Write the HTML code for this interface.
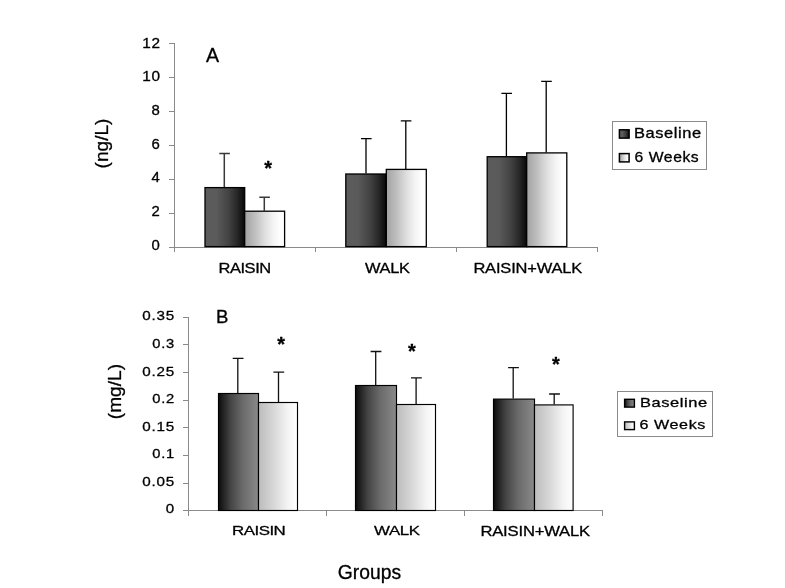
<!DOCTYPE html>
<html lang="en"><head><meta charset="utf-8"><title>Figure: Baseline vs 6 Weeks by group</title>
<style>
html,body{margin:0;padding:0;background:#fff;}
body{width:785px;height:588px;overflow:hidden;}
svg{display:block;will-change:transform;font-family:'Liberation Sans', Arial, Helvetica, sans-serif;fill:#000;}
text{stroke:#000;stroke-width:.3px;stroke-linejoin:round;}
</style></head><body>
<svg width="785" height="588" viewBox="0 0 785 588">
<defs>
<linearGradient id="dA" x1="0" x2="1" y1="0" y2="0"><stop offset="0" stop-color="#5c5c5c"/><stop offset=".3" stop-color="#5a5a5a"/><stop offset=".6" stop-color="#424242"/><stop offset=".82" stop-color="#262626"/><stop offset="1" stop-color="#080808"/></linearGradient>
<linearGradient id="lA" x1="0" x2="1" y1="0" y2="0"><stop offset="0" stop-color="#a2a2a2"/><stop offset=".25" stop-color="#bebebe"/><stop offset=".5" stop-color="#dedede"/><stop offset=".72" stop-color="#f4f4f4"/><stop offset=".9" stop-color="#ffffff"/><stop offset="1" stop-color="#ffffff"/></linearGradient>
<linearGradient id="dB" x1="0" x2="1" y1="0" y2="0"><stop offset="0" stop-color="#0c0c0c"/><stop offset=".3" stop-color="#444444"/><stop offset=".6" stop-color="#6a6a6a"/><stop offset="1" stop-color="#8a8a8a"/></linearGradient>
<linearGradient id="lB" x1="0" x2="1" y1="0" y2="0"><stop offset="0" stop-color="#bcbcbc"/><stop offset=".4" stop-color="#d8d8d8"/><stop offset=".75" stop-color="#f4f4f4"/><stop offset="1" stop-color="#ffffff"/></linearGradient>
</defs>
<rect width="785" height="588" fill="#fff"/>

<g stroke="#8a8a8a" stroke-width="1" fill="none" shape-rendering="crispEdges">
<path d="M174.5 43.5V252"/>
<path d="M169 247.5H597.5"/>
<path d="M169 43.5H174.5"/>
<path d="M169 77.5H174.5"/>
<path d="M169 111.5H174.5"/>
<path d="M169 145.5H174.5"/>
<path d="M169 179.5H174.5"/>
<path d="M169 213.5H174.5"/>
<path d="M315.5 247.5V252"/>
<path d="M456.5 247.5V252"/>
<path d="M597.5 247.5V252"/>
</g>
<text x="160.70" y="47.70" font-size="14" text-anchor="end" textLength="18.40" lengthAdjust="spacingAndGlyphs" letter-spacing=".6">12</text>
<text x="160.70" y="80.90" font-size="14" text-anchor="end" textLength="18.40" lengthAdjust="spacingAndGlyphs" letter-spacing=".6">10</text>
<text x="159.90" y="114.90" font-size="14" text-anchor="end" textLength="8.30" lengthAdjust="spacingAndGlyphs">8</text>
<text x="159.90" y="148.80" font-size="14" text-anchor="end" textLength="8.30" lengthAdjust="spacingAndGlyphs">6</text>
<text x="159.90" y="182.00" font-size="14" text-anchor="end" textLength="8.30" lengthAdjust="spacingAndGlyphs">4</text>
<text x="159.90" y="216.40" font-size="14" text-anchor="end" textLength="8.30" lengthAdjust="spacingAndGlyphs">2</text>
<text x="159.90" y="250.40" font-size="14" text-anchor="end" textLength="8.30" lengthAdjust="spacingAndGlyphs">0</text>
<rect x="205.00" y="187.60" width="39.70" height="59.00" fill="url(#dA)" stroke="#000" stroke-width="1.3"/>
<rect x="244.70" y="211.20" width="39.90" height="35.40" fill="url(#lA)" stroke="#000" stroke-width="1.3"/>
<rect x="345.80" y="174.00" width="40.50" height="72.60" fill="url(#dA)" stroke="#000" stroke-width="1.3"/>
<rect x="386.30" y="169.40" width="40.00" height="77.20" fill="url(#lA)" stroke="#000" stroke-width="1.3"/>
<rect x="487.20" y="156.70" width="39.50" height="89.90" fill="url(#dA)" stroke="#000" stroke-width="1.3"/>
<rect x="526.70" y="152.90" width="40.10" height="93.70" fill="url(#lA)" stroke="#000" stroke-width="1.3"/>
<path d="M224.30 187.00V153.50M219.30 153.50H229.90" stroke="#3a3a3a" stroke-width="1.5" fill="none"/>
<path d="M264.30 211.00V197.20M259.30 197.20H269.90" stroke="#3a3a3a" stroke-width="1.5" fill="none"/>
<path d="M366.00 173.50V138.60M361.00 138.60H371.60" stroke="#000" stroke-width="1.3" fill="none"/>
<path d="M405.80 169.00V120.80M400.80 120.80H411.40" stroke="#000" stroke-width="1.3" fill="none"/>
<path d="M506.40 156.00V93.40M501.40 93.40H512.00" stroke="#000" stroke-width="1.3" fill="none"/>
<path d="M546.20 152.50V81.30M541.20 81.30H551.80" stroke="#000" stroke-width="1.3" fill="none"/>
<text x="218.50" y="272.70" font-size="14.5" textLength="52.20" lengthAdjust="spacingAndGlyphs" letter-spacing="-.4" stroke="none">RAISIN</text>
<text x="365.00" y="272.70" font-size="14.5" textLength="44.60" lengthAdjust="spacingAndGlyphs" letter-spacing="-.3" stroke="none">WALK</text>
<text x="473.40" y="273.10" font-size="14.6" textLength="108.80" lengthAdjust="spacingAndGlyphs" letter-spacing="-.15" stroke="none">RAISIN+WALK</text>
<text x="205.90" y="61.70" font-size="19.6">A</text>
<text x="268.05" y="175.05" font-size="20" text-anchor="middle" font-weight="bold" stroke="none">*</text>
<text x="0.00" y="0.00" font-size="19.1" text-anchor="middle" transform="translate(107.5 143.5) rotate(-90)">(ng/L)</text>
<rect x="612.5" y="121.5" width="94" height="48" fill="#fff" stroke="#8a8a8a" stroke-width="1" shape-rendering="crispEdges"/>
<rect x="619.40" y="129.80" width="9.70" height="8.30" fill="url(#dA)" stroke="#000" stroke-width="1.5"/>
<rect x="619.40" y="153.60" width="9.70" height="8.30" fill="url(#lA)" stroke="#000" stroke-width="1.5"/>
<text x="634.00" y="138.00" font-size="14.2" textLength="67.80" lengthAdjust="spacingAndGlyphs" letter-spacing=".5" stroke-width=".15">Baseline</text>
<text x="634.60" y="161.80" font-size="14.2" textLength="64.60" lengthAdjust="spacingAndGlyphs" letter-spacing=".5" stroke-width=".15">6 Weeks</text>
<g stroke="#8a8a8a" stroke-width="1" fill="none" shape-rendering="crispEdges">
<path d="M188.5 317.5V515.5"/>
<path d="M183 510.5H602.5"/>
<path d="M183 317.5H188.5"/>
<path d="M183 344.5H188.5"/>
<path d="M183 372.5H188.5"/>
<path d="M183 400.5H188.5"/>
<path d="M183 427.5H188.5"/>
<path d="M183 455.5H188.5"/>
<path d="M183 483.5H188.5"/>
<path d="M326.5 510.5V515.5"/>
<path d="M464.5 510.5V515.5"/>
<path d="M602.5 510.5V515.5"/>
</g>
<text x="175.00" y="320.40" font-size="13.2" text-anchor="end" textLength="32.80" lengthAdjust="spacingAndGlyphs" letter-spacing=".7">0.35</text>
<text x="175.00" y="347.95" font-size="13.2" text-anchor="end" textLength="22.80" lengthAdjust="spacingAndGlyphs" letter-spacing=".7">0.3</text>
<text x="175.00" y="375.50" font-size="13.2" text-anchor="end" textLength="32.80" lengthAdjust="spacingAndGlyphs" letter-spacing=".7">0.25</text>
<text x="175.00" y="403.05" font-size="13.2" text-anchor="end" textLength="22.80" lengthAdjust="spacingAndGlyphs" letter-spacing=".7">0.2</text>
<text x="175.00" y="430.60" font-size="13.2" text-anchor="end" textLength="32.80" lengthAdjust="spacingAndGlyphs" letter-spacing=".7">0.15</text>
<text x="175.00" y="458.15" font-size="13.2" text-anchor="end" textLength="22.80" lengthAdjust="spacingAndGlyphs" letter-spacing=".7">0.1</text>
<text x="175.00" y="485.70" font-size="13.2" text-anchor="end" textLength="32.80" lengthAdjust="spacingAndGlyphs" letter-spacing=".7">0.05</text>
<text x="174.10" y="513.25" font-size="13.2" text-anchor="end" textLength="8.40" lengthAdjust="spacingAndGlyphs">0</text>
<rect x="218.50" y="393.50" width="40.00" height="117.00" fill="url(#dB)" stroke="#000" stroke-width="1.15"/>
<rect x="258.50" y="402.50" width="39.00" height="108.00" fill="url(#lB)" stroke="#000" stroke-width="1.15"/>
<rect x="355.50" y="385.50" width="41.00" height="125.00" fill="url(#dB)" stroke="#000" stroke-width="1.15"/>
<rect x="396.50" y="404.50" width="39.00" height="106.00" fill="url(#lB)" stroke="#000" stroke-width="1.15"/>
<rect x="493.50" y="399.10" width="41.00" height="111.40" fill="url(#dB)" stroke="#000" stroke-width="1.15"/>
<rect x="534.50" y="404.90" width="38.60" height="105.60" fill="url(#lB)" stroke="#000" stroke-width="1.15"/>
<path d="M237.80 393.00V358.40M232.70 358.40H243.50" stroke="#111" stroke-width="1.3" fill="none"/>
<path d="M278.50 402.00V372.10M273.40 372.10H284.20" stroke="#111" stroke-width="1.3" fill="none"/>
<path d="M375.70 385.00V351.50M370.60 351.50H381.40" stroke="#111" stroke-width="1.3" fill="none"/>
<path d="M416.10 404.00V377.90M411.00 377.90H421.80" stroke="#111" stroke-width="1.3" fill="none"/>
<path d="M513.20 398.60V367.60M508.10 367.60H518.90" stroke="#111" stroke-width="1.3" fill="none"/>
<path d="M554.20 404.40V394.00M549.10 394.00H559.90" stroke="#111" stroke-width="1.3" fill="none"/>
<text x="232.00" y="535.30" font-size="13.5" textLength="53.30" lengthAdjust="spacingAndGlyphs" letter-spacing="-.4" stroke="none">RAISIN</text>
<text x="374.10" y="535.40" font-size="13.6" textLength="45.60" lengthAdjust="spacingAndGlyphs" letter-spacing="-.3" stroke="none">WALK</text>
<text x="480.40" y="536.00" font-size="14.0" textLength="109.60" lengthAdjust="spacingAndGlyphs" letter-spacing="-.15" stroke="none">RAISIN+WALK</text>
<text x="216.10" y="322.80" font-size="18.6">B</text>
<text x="281.10" y="351.40" font-size="20" text-anchor="middle" font-weight="bold" stroke="none">*</text>
<text x="412.00" y="357.80" font-size="20" text-anchor="middle" font-weight="bold" stroke="none">*</text>
<text x="556.00" y="370.90" font-size="20" text-anchor="middle" font-weight="bold" stroke="none">*</text>
<text x="0.00" y="0.00" font-size="19.1" text-anchor="middle" transform="translate(120.6 391.6) rotate(-90)">(mg/L)</text>
<rect x="617.5" y="391.5" width="95" height="45" fill="#fff" stroke="#8a8a8a" stroke-width="1" shape-rendering="crispEdges"/>
<rect x="624.60" y="399.30" width="9.80" height="7.80" fill="url(#dB)" stroke="#000" stroke-width="1.4"/>
<rect x="624.60" y="421.90" width="9.80" height="7.70" fill="url(#lB)" stroke="#000" stroke-width="1.4"/>
<text x="639.90" y="406.90" font-size="13.5" textLength="68.00" lengthAdjust="spacingAndGlyphs" letter-spacing=".5" stroke-width=".15">Baseline</text>
<text x="639.50" y="429.40" font-size="13.5" textLength="66.40" lengthAdjust="spacingAndGlyphs" letter-spacing=".5" stroke-width=".15">6 Weeks</text>
<text x="337.80" y="579.00" font-size="19.3">Groups</text>
</svg></body></html>
